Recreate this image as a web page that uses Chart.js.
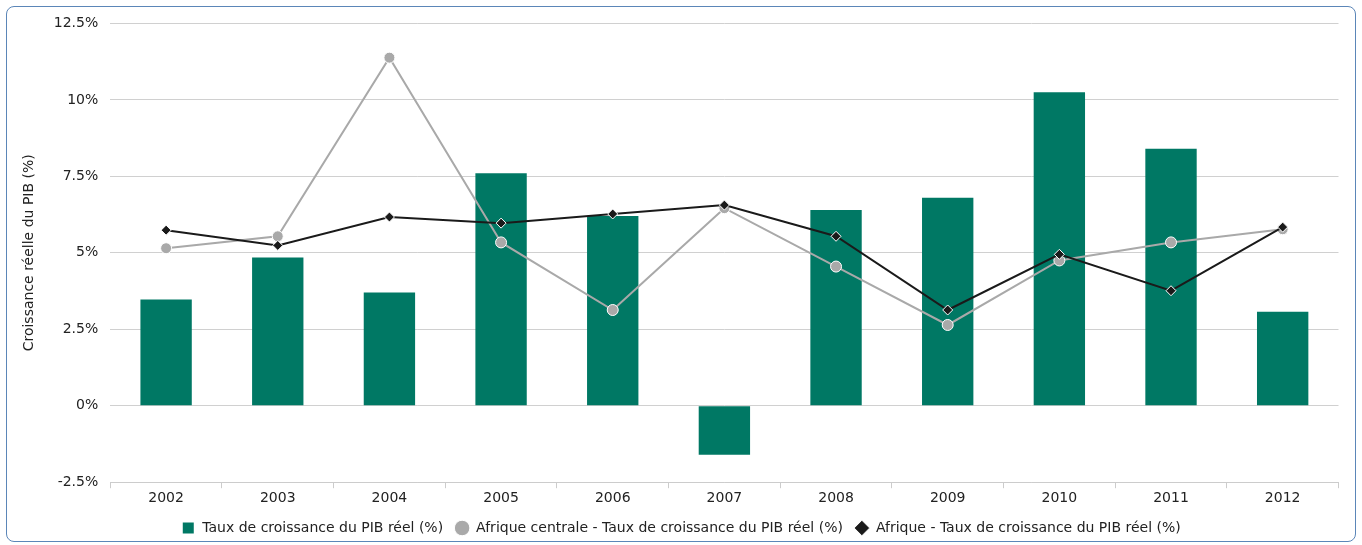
<!DOCTYPE html>
<html>
<head>
<meta charset="utf-8">
<script src="https://cdn.jsdelivr.net/npm/chart.js@4"></script>
<style>
  html, body { margin: 0; padding: 0; background: #fff; }
  #box { position: absolute; left: 6px; top: 6px; width: 1350px; height: 536px;
    border: 1px solid #5b86b8; border-radius: 8px; box-sizing: border-box; overflow: hidden; }
  #wrap { position: absolute; left: 4px; top: -4px; width: 1334px; height: 542px; }
</style>
</head>
<body>
<div id="box"><div id="wrap"><canvas id="chart"></canvas></div></div>
<script>
var years = ['2002', '2003', '2004', '2005', '2006', '2007', '2008', '2009', '2010', '2011', '2012'];
var pays = [3.47, 4.85, 3.7, 7.6, 6.2, -1.6, 6.4, 6.8, 10.25, 8.4, 3.07];
var afriqueCentrale = [5.15, 5.54, 11.38, 5.34, 3.13, 6.46, 4.55, 2.64, 4.75, 5.34, 5.77];
var afrique = [5.74, 5.24, 6.17, 5.97, 6.27, 6.56, 5.54, 3.13, 4.95, 3.76, 5.84];

var font = 'DejaVu Sans, sans-serif';

var chart = new Chart(document.getElementById('chart'), {
  data: {
    labels: years,
    datasets: [{
      type: 'line',
      label: 'Afrique - Taux de croissance du PIB réel (%)',
      data: afrique,
      borderColor: '#1a1a1a',
      backgroundColor: '#1a1a1a',
      borderWidth: 2,
      pointStyle: 'rectRot',
      pointRadius: 5,
      pointBorderColor: '#fff',
      pointBorderWidth: 1,
      order: 1
    }, {
      type: 'line',
      label: 'Afrique centrale - Taux de croissance du PIB réel (%)',
      data: afriqueCentrale,
      borderColor: '#a9a9a9',
      backgroundColor: '#a9a9a9',
      borderWidth: 2,
      pointRadius: 5.5,
      pointBorderColor: '#fff',
      pointBorderWidth: 1,
      order: 2
    }, {
      type: 'bar',
      label: 'Taux de croissance du PIB réel (%)',
      data: pays,
      backgroundColor: '#007864',
      pointStyle: 'rect',
      barPercentage: 0.46,
      categoryPercentage: 1,
      order: 3
    }]
  },
  options: {
    responsive: true,
    maintainAspectRatio: false,
    animation: false,
    layout: { padding: { top: 0, right: 0, left: 6, bottom: 0 } },
    plugins: {
      legend: {
        position: 'bottom',
        reverse: true,
        labels: {
          usePointStyle: true,
          boxHeight: 11,
          color: '#222',
          font: { family: font, size: 14 },
          padding: 12
        }
      },
      tooltip: { enabled: false }
    },
    scales: {
      x: {
        offset: true,
        grid: { display: true, drawOnChartArea: false, tickLength: 6, color: '#ccc', offset: true },
        border: { color: '#ccc' },
        ticks: { color: '#222', padding: 2, font: { family: font, size: 14 } }
      },
      y: {
        min: -2.5,
        max: 12.5,
        title: { display: true, text: 'Croissance réelle du PIB (%)', color: '#222', font: { family: font, size: 14 } },
        grid: { color: '#d0d0d0', drawTicks: false },
        border: { display: false },
        ticks: {
          stepSize: 2.5,
          padding: 12,
          color: '#222',
          font: { family: font, size: 14 },
          callback: function(v) { return v + '%'; }
        }
      }
    }
  }
});
</script>
</body>
</html>
